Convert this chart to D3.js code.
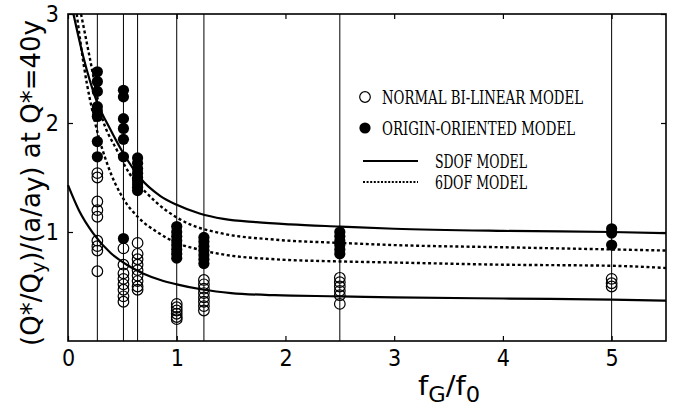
<!DOCTYPE html>
<html>
<head>
<meta charset="utf-8">
<script src="https://cdn.jsdelivr.net/npm/d3@7"></script>
<style>
  body { margin: 0; background: #fff; }
  text { fill: #000; }
</style>
</head>
<body>
<svg width="677" height="411"></svg>
<script>
// data

// frequency ratios where the test points sit (vertical guide lines)
var fRatios = [0.27, 0.51, 0.64, 1.0, 1.25, 2.5, 5.0];

// open circles: normal bi-linear model
var bilinearVals = [
  [1.54, 1.50, 1.28, 1.20, 1.14, 0.92, 0.87, 0.83, 0.64],
  [0.85, 0.70, 0.62, 0.57, 0.52, 0.47, 0.41, 0.36],
  [0.90, 0.80, 0.75, 0.70, 0.65, 0.60, 0.55, 0.50, 0.47],
  [0.34, 0.31, 0.28, 0.25, 0.22, 0.20],
  [0.56, 0.52, 0.48, 0.44, 0.40, 0.36, 0.32, 0.28],
  [0.58, 0.54, 0.50, 0.46, 0.42, 0.34],
  [0.57, 0.53, 0.50]
];

// filled circles: origin-oriented model
var originVals = [
  [2.47, 2.38, 2.29, 2.15, 2.11, 2.06, 1.83, 1.69],
  [2.30, 2.24, 2.04, 1.95, 1.85, 1.69, 0.94],
  [1.68, 1.63, 1.58, 1.54, 1.50, 1.47, 1.44, 1.41, 1.38],
  [1.05, 1.00, 0.96, 0.92, 0.88, 0.84, 0.80, 0.76],
  [0.95, 0.91, 0.87, 0.83, 0.79, 0.75, 0.71],
  [1.00, 0.96, 0.92, 0.88, 0.84, 0.80],
  [1.03, 0.99, 0.88]
];

// SDOF model curves (solid)
var sdofOrigin = [[0.05,3.0],[0.14,2.61],[0.26,2.21],[0.39,1.94],[0.51,1.72],[0.66,1.5],[0.85,1.33],[1.0,1.25],[1.21,1.17],[1.43,1.12],[1.73,1.09],[2.04,1.07],[2.5,1.05],[3.0,1.03],[4.0,1.01],[5.0,1.0],[5.5,0.99]];
var sdofBilinear = [[0,1.43],[0.1,1.2],[0.23,0.99],[0.39,0.81],[0.54,0.70],[0.69,0.62],[0.85,0.56],[1.0,0.52],[1.25,0.47],[1.5,0.44],[1.9,0.42],[2.5,0.41],[3.0,0.40],[4.0,0.39],[5.0,0.38],[5.5,0.37]];

// 6DOF model curves (dotted)
var mdofOrigin = [[0.12,3.0],[0.2,2.6],[0.3,2.1],[0.45,1.75],[0.57,1.53],[0.72,1.36],[0.9,1.2],[1.1,1.08],[1.4,0.99],[1.9,0.93],[2.5,0.9],[3.0,0.88],[4.0,0.86],[5.0,0.84],[5.5,0.83]];
var mdofBilinear = [[0.08,3.0],[0.15,2.5],[0.25,2.0],[0.37,1.6],[0.5,1.32],[0.65,1.13],[0.82,1.0],[1.0,0.9],[1.2,0.84],[1.45,0.79],[1.9,0.75],[2.5,0.73],[3.0,0.72],[4.0,0.70],[5.0,0.69],[5.5,0.67]];

var xTicks = [0, 1, 2, 3, 4, 5];
var yTicks = [1, 2, 3];

var svg = d3.select("svg");
var pLeft = 68, pRight = 666, pTop = 14, pBottom = 341;

var x = d3.scaleLinear().domain([0, 5.5]).range([pLeft, pRight]);
var y = d3.scaleLinear().domain([0, 3]).range([pBottom, pTop]);

var numFont = "'Liberation Sans Narrow', 'DejaVu Sans Condensed', sans-serif";
var legFont = "'DejaVu Serif', 'Liberation Serif', serif";

var plot = svg.append("g");

// vertical guide lines at each test ratio
plot.selectAll(".guide")
  .data(fRatios)
  .enter().append("line")
  .attr("class", "guide")
  .attr("x1", d => x(d)).attr("x2", d => x(d))
  .attr("y1", pTop).attr("y2", pBottom)
  .attr("stroke", "#000")
  .attr("stroke-width", 1);

// curves
var line = d3.line()
  .x(d => x(d[0]))
  .y(d => y(d[1]))
  .curve(d3.curveMonotoneX);

[sdofOrigin, sdofBilinear].forEach(function(c) {
  plot.append("path")
    .attr("d", line(c))
    .attr("fill", "none")
    .attr("stroke", "#000")
    .attr("stroke-width", 2.2);
});

[mdofOrigin, mdofBilinear].forEach(function(c) {
  plot.append("path")
    .attr("d", line(c))
    .attr("fill", "none")
    .attr("stroke", "#000")
    .attr("stroke-width", 2.4)
    .attr("stroke-dasharray", "3,2.6");
});

// flatten point lists
function pts(vals) {
  var out = [];
  vals.forEach((col, i) => col.forEach(v => out.push({f: fRatios[i], v: v})));
  return out;
}

plot.selectAll(".open")
  .data(pts(bilinearVals))
  .enter().append("circle")
  .attr("class", "open")
  .attr("cx", d => x(d.f))
  .attr("cy", d => y(d.v))
  .attr("r", 5.3)
  .attr("fill", "none")
  .attr("stroke", "#000")
  .attr("stroke-width", 1.2);

plot.selectAll(".filled")
  .data(pts(originVals))
  .enter().append("circle")
  .attr("class", "filled")
  .attr("cx", d => x(d.f))
  .attr("cy", d => y(d.v))
  .attr("r", 5.6)
  .attr("fill", "#000");

// axes with inward ticks
svg.append("g")
  .attr("transform", "translate(0," + pBottom + ")")
  .call(d3.axisBottom(x).tickValues(xTicks).tickSizeInner(-5).tickSizeOuter(0).tickPadding(9).tickFormat(d3.format("d")));
svg.append("g")
  .attr("transform", "translate(0," + pTop + ")")
  .call(d3.axisTop(x).tickValues(xTicks).tickSizeInner(-5).tickSizeOuter(0).tickFormat(""));
svg.append("g")
  .attr("transform", "translate(" + pLeft + ",0)")
  .call(d3.axisLeft(y).tickValues(yTicks).tickSizeInner(-5).tickSizeOuter(0).tickPadding(9).tickFormat(d3.format("d")));
svg.append("g")
  .attr("transform", "translate(" + pRight + ",0)")
  .call(d3.axisRight(y).tickValues(yTicks).tickSizeInner(-5).tickSizeOuter(0).tickFormat(""));

svg.selectAll(".domain").remove();
svg.selectAll(".tick line").attr("stroke", "#000").attr("stroke-width", 1.2);
svg.selectAll(".tick text")
  .attr("font-family", numFont)
  .attr("font-size", 23)
  .attr("fill", "#000");

// frame
svg.append("rect")
  .attr("x", pLeft).attr("y", pTop)
  .attr("width", pRight - pLeft).attr("height", pBottom - pTop)
  .attr("fill", "none")
  .attr("stroke", "#000")
  .attr("stroke-width", 1.6);

// x label
var xl = svg.append("text")
  .attr("x", 418).attr("y", 395)
  .attr("font-family", numFont)
  .attr("font-size", 27)
  .attr("textLength", 62)
  .attr("lengthAdjust", "spacingAndGlyphs");
xl.append("tspan").text("f");
xl.append("tspan").attr("dy", 7).attr("font-size", 21).text("G");
xl.append("tspan").attr("dy", -7).text("/f");
xl.append("tspan").attr("dy", 7).attr("font-size", 21).text("0");

// y label
var yl = svg.append("text")
  .attr("transform", "translate(40,183) rotate(-90)")
  .attr("text-anchor", "middle")
  .attr("font-family", numFont)
  .attr("font-size", 26)
  .attr("textLength", 326)
  .attr("lengthAdjust", "spacingAndGlyphs");
yl.append("tspan").text("(Q*/Q");
yl.append("tspan").attr("dy", 5).attr("font-size", 19).text("y");
yl.append("tspan").attr("dy", -5).text(")/(a/a");
yl.append("tspan").attr("dy", 3).text("y");
yl.append("tspan").attr("dy", -3).text(") at Q*=40y");

// legend
var legend = svg.append("g");
legend.append("circle").attr("cx", 365).attr("cy", 97).attr("r", 5.3)
  .attr("fill", "none").attr("stroke", "#000").attr("stroke-width", 1.2);
legend.append("circle").attr("cx", 365).attr("cy", 128).attr("r", 5.6).attr("fill", "#000");
legend.append("line").attr("x1", 363).attr("x2", 418).attr("y1", 161).attr("y2", 161)
  .attr("stroke", "#000").attr("stroke-width", 2.2);
legend.append("line").attr("x1", 363).attr("x2", 418).attr("y1", 182).attr("y2", 182)
  .attr("stroke", "#000").attr("stroke-width", 2).attr("stroke-dasharray", "2,1.6");

var legRows = [
  {t: "NORMAL BI-LINEAR MODEL", x: 382, y: 103.5, w: 201},
  {t: "ORIGIN-ORIENTED MODEL", x: 382, y: 134.5, w: 193},
  {t: "SDOF MODEL", x: 435, y: 168, w: 92},
  {t: "6DOF MODEL", x: 435, y: 189, w: 92}
];
legend.selectAll(".lt")
  .data(legRows)
  .enter().append("text")
  .attr("class", "lt")
  .attr("x", d => d.x).attr("y", d => d.y)
  .attr("font-family", legFont)
  .attr("font-size", 18)
  .attr("textLength", d => d.w)
  .attr("lengthAdjust", "spacingAndGlyphs")
  .text(d => d.t);
</script>
</body>
</html>
